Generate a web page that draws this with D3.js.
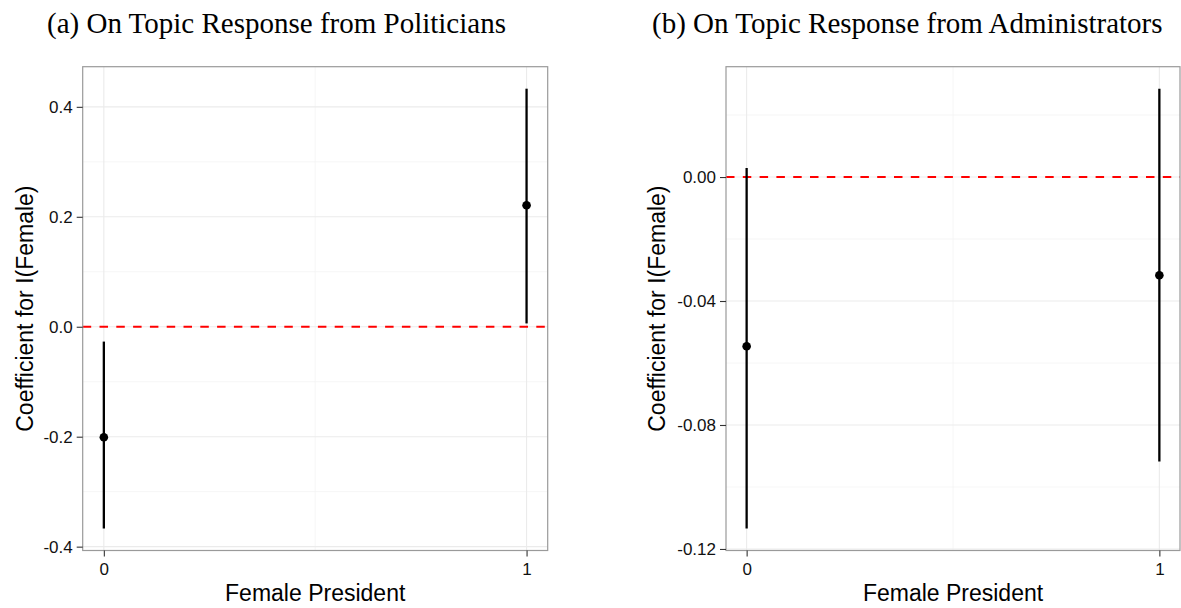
<!DOCTYPE html>
<html>
<head>
<meta charset="utf-8">
<script src="https://cdn.jsdelivr.net/npm/d3@7"></script>
<style>
  body { margin: 0; background: #fff; }
  svg { display: block; }
</style>
</head>
<body>
<div id="chart"></div>
<script>
// x categories (Female President)
var xVals = [0, 1];

// (a) politicians: estimate and interval
var polEst = [-0.201, 0.221];
var polLo = [-0.367, 0.006];
var polHi = [-0.027, 0.433];
var polTicks = [-0.4, -0.2, 0.0, 0.2, 0.4];

// (b) administrators
var admEst = [-0.0546, -0.0317];
var admLo = [-0.1134, -0.0918];
var admHi = [0.0029, 0.0285];
var admTicks = [-0.12, -0.08, -0.04, 0.00];

var titles = ["(a) On Topic Response from Politicians", "(b) On Topic Response from Administrators"];

var w = 1181, h = 608;

var svg = d3.select("#chart")
    .append("svg")
    .attr("width", w)
    .attr("height", h);

function drawPanel(opt) {
  var x0 = opt.left, x1 = opt.right, y0 = 66.7, y1 = 550.5;

  // ggplot style 5% expansion
  var lo = d3.min(opt.lo), hi = d3.max(opt.hi);
  var pad = (hi - lo) * 0.05;
  var y = d3.scaleLinear().domain([lo - pad, hi + pad]).range([y1, y0]);
  var x = d3.scaleLinear().domain([-0.05, 1.05]).range([x0, x1]);

  var g = svg.append("g");

  // minor grid
  var minorY = [];
  for (var i = 0; i < opt.ticks.length - 1; i++) {
    minorY.push((opt.ticks[i] + opt.ticks[i + 1]) / 2);
  }
  var step = opt.ticks[1] - opt.ticks[0];
  if (y(opt.ticks[opt.ticks.length - 1] + step / 2) > y0) minorY.push(opt.ticks[opt.ticks.length - 1] + step / 2);
  if (y(opt.ticks[0] - step / 2) < y1) minorY.push(opt.ticks[0] - step / 2);

  g.selectAll(".minorY").data(minorY).enter().append("line")
    .attr("x1", x0).attr("x2", x1)
    .attr("y1", function(d) { return y(d); })
    .attr("y2", function(d) { return y(d); })
    .attr("stroke", "#f4f4f4").attr("stroke-width", 0.8);

  g.append("line")
    .attr("x1", x(0.5)).attr("x2", x(0.5))
    .attr("y1", y0).attr("y2", y1)
    .attr("stroke", "#f4f4f4").attr("stroke-width", 0.8);

  // major grid
  g.selectAll(".majorY").data(opt.ticks).enter().append("line")
    .attr("x1", x0).attr("x2", x1)
    .attr("y1", function(d) { return y(d); })
    .attr("y2", function(d) { return y(d); })
    .attr("stroke", "#ebebeb").attr("stroke-width", 1.1);

  g.selectAll(".majorX").data(xVals).enter().append("line")
    .attr("x1", function(d) { return x(d); })
    .attr("x2", function(d) { return x(d); })
    .attr("y1", y0).attr("y2", y1)
    .attr("stroke", "#ebebeb").attr("stroke-width", 1.1);

  // zero line
  g.append("line")
    .attr("x1", x0).attr("x2", x1)
    .attr("y1", y(0)).attr("y2", y(0))
    .attr("stroke", "#ff0000").attr("stroke-width", 2)
    .attr("stroke-dasharray", "8.5,8.3");

  // error bars
  g.selectAll(".bar").data(xVals).enter().append("line")
    .attr("x1", function(d) { return x(d); })
    .attr("x2", function(d) { return x(d); })
    .attr("y1", function(d, i) { return y(opt.lo[i]); })
    .attr("y2", function(d, i) { return y(opt.hi[i]); })
    .attr("stroke", "#000").attr("stroke-width", 2.3);

  g.selectAll(".pt").data(xVals).enter().append("circle")
    .attr("cx", function(d) { return x(d); })
    .attr("cy", function(d, i) { return y(opt.est[i]); })
    .attr("r", 4.3)
    .attr("fill", "#000");

  // panel border
  g.append("rect")
    .attr("x", x0).attr("y", y0)
    .attr("width", x1 - x0).attr("height", y1 - y0)
    .attr("fill", "none").attr("stroke", "#9a9a9a").attr("stroke-width", 1.2);

  // axes
  var yAxis = d3.axisLeft(y).tickValues(opt.ticks).tickSize(6).tickPadding(4)
    .tickFormat(function(d) { return d3.format(opt.fmt)(d).replace("\u2212", "-"); });
  var ya = g.append("g").attr("transform", "translate(" + x0 + ",0)").call(yAxis);
  ya.select(".domain").remove();
  ya.selectAll("line").attr("stroke", "#333").attr("stroke-width", 1.1);
  ya.selectAll("text").attr("font-family", "Liberation Sans, Arial, sans-serif")
    .attr("font-size", 17).attr("fill", "#111");

  var xAxis = d3.axisBottom(x).tickValues(xVals).tickSize(6).tickPadding(6)
    .tickFormat(d3.format("d"));
  var xa = g.append("g").attr("transform", "translate(0," + y1 + ")").call(xAxis);
  xa.select(".domain").remove();
  xa.selectAll("line").attr("stroke", "#333").attr("stroke-width", 1.1);
  xa.selectAll("text").attr("font-family", "Liberation Sans, Arial, sans-serif")
    .attr("font-size", 17).attr("fill", "#111");

  // axis titles
  g.append("text")
    .attr("x", (x0 + x1) / 2).attr("y", 601)
    .attr("text-anchor", "middle")
    .attr("font-family", "Liberation Sans, Arial, sans-serif")
    .attr("font-size", 23)
    .text("Female President");

  g.append("text")
    .attr("transform", "translate(" + opt.yTitleX + "," + ((y0 + y1) / 2) + ") rotate(-90)")
    .attr("text-anchor", "middle")
    .attr("font-family", "Liberation Sans, Arial, sans-serif")
    .attr("font-size", 23)
    .text("Coefficient for I(Female)");

  // panel title
  g.append("text")
    .attr("x", opt.titleX).attr("y", 33)
    .attr("font-family", "Liberation Serif, Times New Roman, serif")
    .attr("font-size", 29)
    .text(opt.title);
}

drawPanel({ left: 82.7, right: 547.7, est: polEst, lo: polLo, hi: polHi,
  ticks: polTicks, fmt: ".1f", yTitleX: 33, titleX: 47, title: titles[0] });

drawPanel({ left: 726, right: 1180, est: admEst, lo: admLo, hi: admHi,
  ticks: admTicks, fmt: ".2f", yTitleX: 665, titleX: 652, title: titles[1] });
</script>
</body>
</html>
